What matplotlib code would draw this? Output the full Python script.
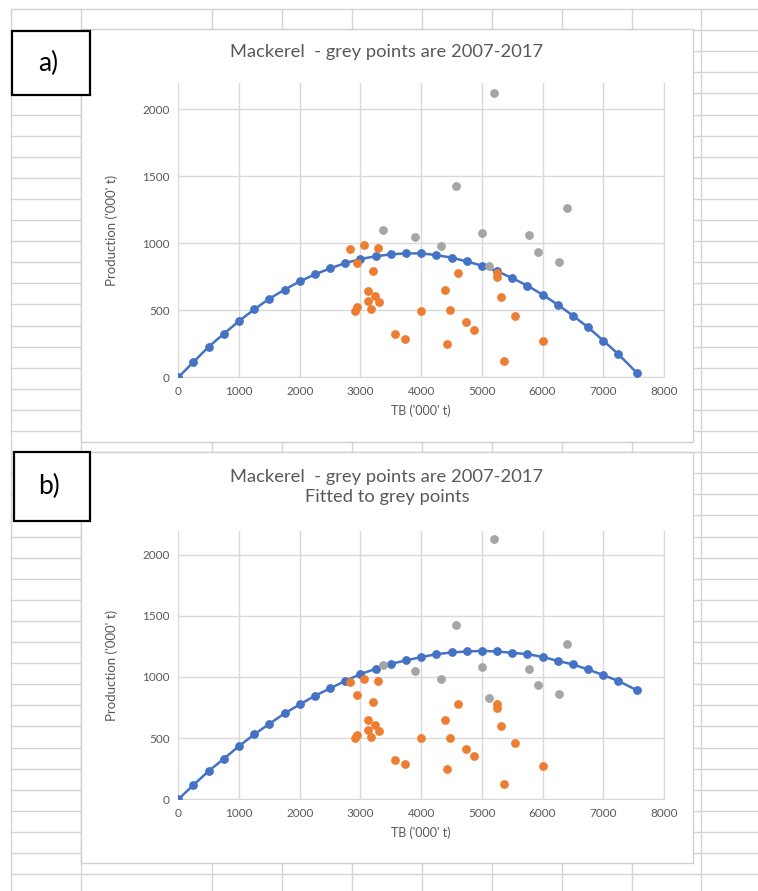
import matplotlib.pyplot as plt
from matplotlib.patches import Rectangle

# data
tb_orange = [2833, 3064, 3284, 2949, 3202, 3125, 3240, 3125, 3301, 3179, 2938, 2905, 4003, 3575,
             3739, 4612, 5250, 5250, 4393, 5320, 4475, 5551, 4744, 4871, 4431, 6012, 5360]
prod_orange = [955, 987, 965, 851, 796, 644, 607, 567, 562, 507, 527, 497, 497, 321,
               286, 778, 776, 746, 651, 601, 502, 457, 415, 353, 249, 269, 124]

tb_grey = [3377, 3899, 4322, 4569, 5007, 5195, 5772, 6398, 5920, 6271, 5123]
prod_grey = [1099, 1049, 982, 1428, 1079, 2124, 1064, 1266, 933, 860, 828]

tb_fit = [0, 250, 500, 750, 1000, 1250, 1500, 1750, 2000, 2250, 2500, 2750, 3000, 3250, 3500,
          3750, 4000, 4250, 4500, 4750, 5000, 5250, 5500, 5750, 6000, 6250, 6500, 6750, 7000,
          7250, 7560]
prod_fit_a = [0, 114, 228, 325, 420, 507, 587, 654, 716, 768, 813, 853, 883, 903, 918,
              925, 925, 913, 893, 866, 833, 792, 741, 684, 617, 542, 460, 373, 274,
              172, 30]
prod_fit_b = [0, 117, 231, 331, 435, 530, 617, 702, 775, 846, 906, 968, 1023, 1066, 1107,
              1135, 1162, 1186, 1200, 1208, 1213, 1208, 1197, 1186, 1164, 1131, 1102, 1061, 1015,
              966, 890]

title_a = "Mackerel  - grey points are 2007-2017"
title_b = "Mackerel  - grey points are 2007-2017\nFitted to grey points"

plt.rcParams['font.family'] = ['Lato', 'DejaVu Sans']

W, H = 758, 891
fig = plt.figure(figsize=(W / 100, H / 100), dpi=100)

# spreadsheet background
bg = fig.add_axes([0, 0, 1, 1])
bg.set_xlim(0, W)
bg.set_ylim(H, 0)
bg.axis('off')
cell = '#d4d4d4'
for k in range(43):
    y = 9 + 21.1 * k
    bg.plot([11, W], [y, y], color=cell, lw=1)
for x in [11, 80.7, 211.7, 281.7, 351.7, 421.7, 491.7, 561.7, 631.7, 701.3]:
    bg.plot([x, x], [9, H], color=cell, lw=1)

# chart boxes
for (x0, y0, x1, y1) in [(80.7, 29.3, 693.3, 441.7), (80.7, 451.7, 693.3, 863.3)]:
    bg.add_patch(Rectangle((x0, y0), x1 - x0, y1 - y0, facecolor='white',
                           edgecolor='#d0d0d0', lw=1, zorder=3))

# a) / b) label boxes
for (x0, y0, x1, y1, lab) in [(12, 31.3, 89.7, 95.3, 'a)'), (14, 452.3, 89.7, 521, 'b)')]:
    bg.add_patch(Rectangle((x0, y0), x1 - x0, y1 - y0, facecolor='white',
                           edgecolor='black', lw=1.6, zorder=5))
    bg.text((x0 + x1) / 2 - 3, (y0 + y1) / 2, lab, ha='center', va='center',
            fontsize=19, color='black', zorder=6)


def draw_chart(rect, fit, title, title_y, xlabel_y):
    ax = fig.add_axes(rect)
    ax.set_facecolor('none')
    ax.plot(tb_fit, fit, color='#4472C4', lw=1.8, marker='o', ms=5.3, zorder=3)
    ax.plot(tb_orange, prod_orange, 'o', color='#ED7D31', ms=5.3, zorder=4)
    ax.plot(tb_grey, prod_grey, 'o', color='#A5A5A5', ms=5.3, zorder=4)
    ax.set_xlim(0, 8000)
    ax.set_ylim(0, 2195)
    ax.set_xticks(range(0, 8001, 1000))
    ax.set_yticks(range(0, 2001, 500))
    ax.grid(True, color='#d9d9d9', lw=1)
    ax.set_axisbelow(True)
    ax.spines['top'].set_visible(False)
    for s in ['left', 'right', 'bottom']:
        ax.spines[s].set_color('#d9d9d9')
    ax.tick_params(length=0, labelsize=8.5, labelcolor='#595959', pad=6)
    fig.text(112 / W, 1 - (rect_top(rect) + rect_bot(rect)) / 2 / H, "Production ('000' t)",
             ha='center', va='center', rotation=90, fontsize=9.5, color='#595959')
    fig.text(421 / W, 1 - xlabel_y / H, "TB ('000' t)", ha='center', va='center',
             fontsize=9, color='#595959')
    fig.text(387 / W, 1 - title_y / H, title, ha='center', va='center',
             fontsize=13.2, color='#595959', linespacing=1.3)
    return ax


def rect_top(rect):
    return (1 - rect[1] - rect[3]) * H


def rect_bot(rect):
    return (1 - rect[1]) * H


draw_chart([178.3 / W, 1 - 377.3 / H, 485.7 / W, 294 / H], prod_fit_a, title_a, 52, 411)
draw_chart([178.3 / W, 1 - 799.3 / H, 485.7 / W, 268.6 / H], prod_fit_b, title_b, 487, 833)

fig.savefig('out.png', dpi=100)
